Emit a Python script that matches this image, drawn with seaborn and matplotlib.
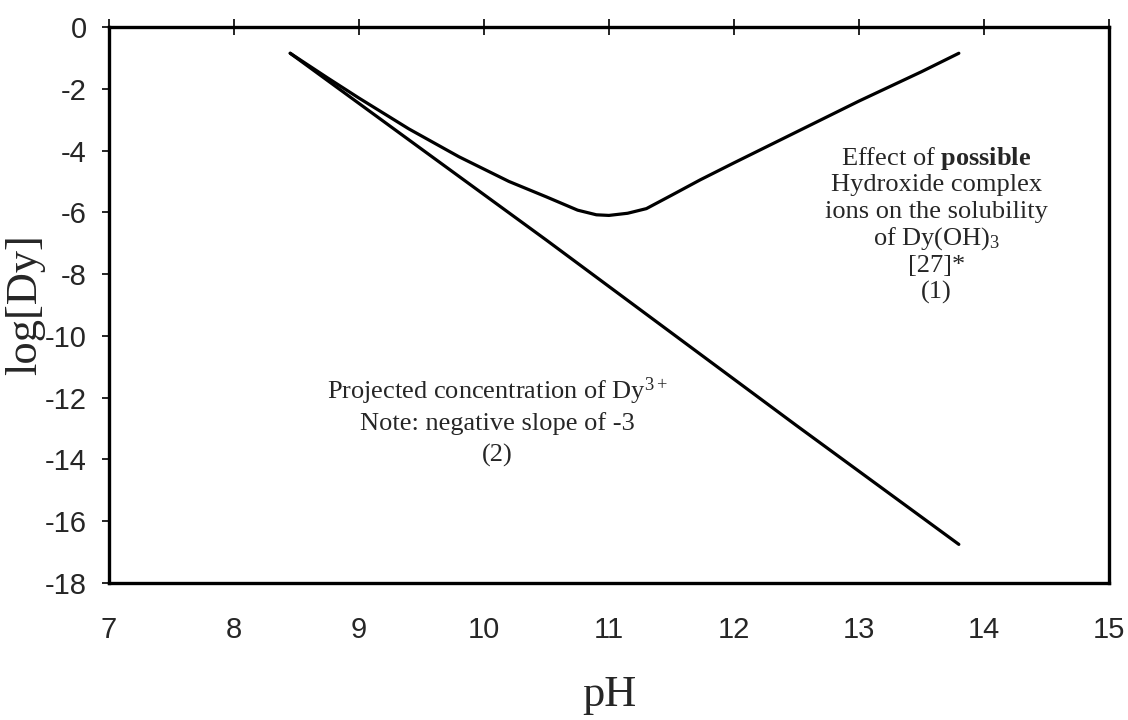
import matplotlib
matplotlib.use("Agg")
import matplotlib.pyplot as plt
import pandas as pd
import seaborn as sns

# Dy 용해도 곡선 (pH vs log[Dy])
ph_complex = [8.45, 8.75, 9.0, 9.4, 9.8, 10.2, 10.5, 10.75, 10.9, 11.0, 11.15, 11.3, 11.5, 11.73, 12.0, 12.5, 13.0, 13.5, 13.8]
log_complex = [-0.85, -1.65, -2.3, -3.3, -4.2, -5.0, -5.5, -5.93, -6.08, -6.1, -6.03, -5.88, -5.45, -4.95, -4.4, -3.4, -2.4, -1.45, -0.85]

ph_projected = [8.45, 9.5, 10.5, 11.5, 12.5, 13.8]
log_projected = [-0.85, -3.95, -6.9, -9.9, -12.9, -16.75]

x_ticks = [7, 8, 9, 10, 11, 12, 13, 14, 15]
y_ticks = [0, -2, -4, -6, -8, -10, -12, -14, -16, -18]
y_tick_labels = ['0', '-2', '-4', '-6', '-8', '-10', '-12', '-14', '-16', '-18']

df_complex = pd.DataFrame({'pH': ph_complex, 'logDy': log_complex})
df_projected = pd.DataFrame({'pH': ph_projected, 'logDy': log_projected})

sns.set_style('white')
plt.rcParams['font.family'] = ['Liberation Serif', 'DejaVu Serif']
plt.rcParams['mathtext.fontset'] = 'custom'
plt.rcParams['mathtext.rm'] = 'Liberation Serif'
plt.rcParams['mathtext.it'] = 'Liberation Serif:italic'
plt.rcParams['mathtext.bf'] = 'Liberation Serif:bold'

fig = plt.figure(figsize=(11.28, 7.2), dpi=100)
ax = fig.add_axes([0.0966, 0.1903, 0.8864, 0.7722])

sns.lineplot(data=df_complex, x='pH', y='logDy', sort=False, estimator=None,
             color='black', linewidth=2.3, ax=ax)
sns.lineplot(data=df_projected, x='pH', y='logDy', sort=False, estimator=None,
             color='black', linewidth=2.3, ax=ax)

ax.set_xlim(7, 15)
ax.set_ylim(-18, 0)
ax.set_xticks(x_ticks)
ax.set_yticks(y_ticks)
ax.set_yticklabels(y_tick_labels)

for s in ax.spines.values():
    s.set_linewidth(2.4)
    s.set_color('black')

# x 눈금은 위쪽 축선에, 라벨은 아래쪽
ax.tick_params(axis='x', top=True, bottom=False, labeltop=False, labelbottom=True,
               direction='inout', length=12, width=1.2, pad=18, color='black')
ax.tick_params(axis='y', left=True, direction='out', length=5, width=1.2, pad=11, color='black')

tick_family = ['Liberation Sans', 'DejaVu Sans']
for lab in ax.get_xticklabels() + ax.get_yticklabels():
    lab.set_family(tick_family)
    lab.set_fontsize(21)

ax.set_xlabel('pH', fontsize=32, labelpad=22)
ax.set_ylabel('log[Dy]', fontsize=32, labelpad=0)

# 오른쪽 위 설명
upper_lines = [
    (r'Effect of $\mathbf{possible}$', -4.46),
    ('Hydroxide complex', -5.31),
    ('ions on the solubility', -6.19),
    (r'of Dy(OH)$_3$', -7.05),
    ('[27]*', -7.93),
    ('(1)', -8.79),
]
for txt, yy in upper_lines:
    ax.text(13.62, yy, txt, ha='center', va='baseline', fontsize=19)

# 아래쪽 설명
lower_lines = [
    (r'Projected concentration of Dy$^{3+}$', -12.04),
    ('Note: negative slope of -3', -13.04),
    ('(2)', -14.08),
]
for txt, yy in lower_lines:
    ax.text(10.11, yy, txt, ha='center', va='baseline', fontsize=19)

fig.savefig('out.png', dpi=100)
